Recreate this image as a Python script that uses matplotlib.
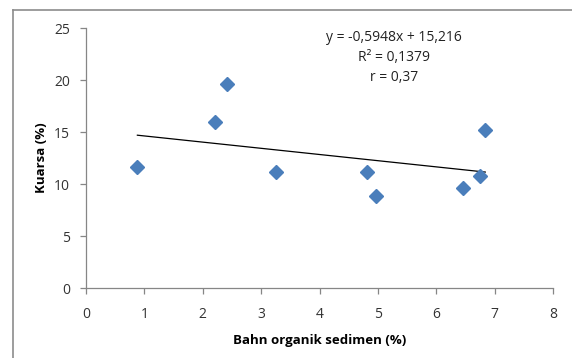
import numpy as np
import matplotlib
matplotlib.use("Agg")
import matplotlib.pyplot as plt
from matplotlib.lines import Line2D

# ---------------- DATA ----------------
bahn_organik = [0.88, 2.21, 2.42, 3.26, 4.82, 4.97, 6.46, 6.75, 6.84]
kuarsa = [11.6, 16.0, 19.6, 11.15, 11.15, 8.8, 9.6, 10.8, 15.2]

slope = -0.5948
intercept = 15.216
eq_lines = ["y = -0,5948x + 15,216", "R\u00b2 = 0,1379", "r = 0,37"]

x_ticks = [0, 1, 2, 3, 4, 5, 6, 7, 8]
y_ticks = [0, 5, 10, 15, 20, 25]

# ---------------- STYLE ----------------
plt.rcParams['font.family'] = ['Open Sans', 'DejaVu Sans']
W, H = 572, 358
fig = plt.figure(figsize=(W / 100, H / 100), dpi=100)
ax = fig.add_axes([86 / W, 1 - 288 / H, (553 - 86) / W, (288 - 28) / H])

axis_col = '#868686'

# outer frame (cut off at right/bottom like the screenshot)
fig.add_artist(Line2D([12.5 / W, 12.5 / W], [0, 1 - 10 / H], color='#8c8c8c', lw=1.2, transform=fig.transFigure))
fig.add_artist(Line2D([12.5 / W, 1], [1 - 10 / H, 1 - 10 / H], color='#8c8c8c', lw=1.2, transform=fig.transFigure))

# points
ax.plot(bahn_organik, kuarsa, linestyle='none', marker='D', markersize=7.5,
        color='#4A7EBB', markeredgecolor='#4A7EBB', zorder=3)

# trendline over the range of the data
xs = np.array([min(bahn_organik), max(bahn_organik)])
ax.plot(xs, slope * xs + intercept, color='black', lw=0.9, zorder=2)

# equation text
ax.text(5.27, 24.8, "\n".join(eq_lines), ha='center', va='top', fontsize=10,
        linespacing=1.45, color='#222222')

ax.set_xlim(0, 8)
ax.set_ylim(0, 25)
ax.set_xticks(x_ticks)
ax.set_yticks(y_ticks)
ax.tick_params(axis='both', labelsize=10, colors='#333333', length=4.5, color=axis_col, width=0.9)
ax.tick_params(axis='y', pad=7)
ax.tick_params(axis='x', pad=9)

for s in ['top', 'right']:
    ax.spines[s].set_visible(False)
for s in ['left', 'bottom']:
    ax.spines[s].set_color(axis_col)
    ax.spines[s].set_linewidth(0.9)

ax.set_xlabel("Bahn organik sedimen (%)", fontsize=9.5, fontweight='bold', labelpad=9)
ax.set_ylabel("Kuarsa (%)", fontsize=9.5, fontweight='bold', labelpad=4)

fig.savefig("out.png", dpi=100)
